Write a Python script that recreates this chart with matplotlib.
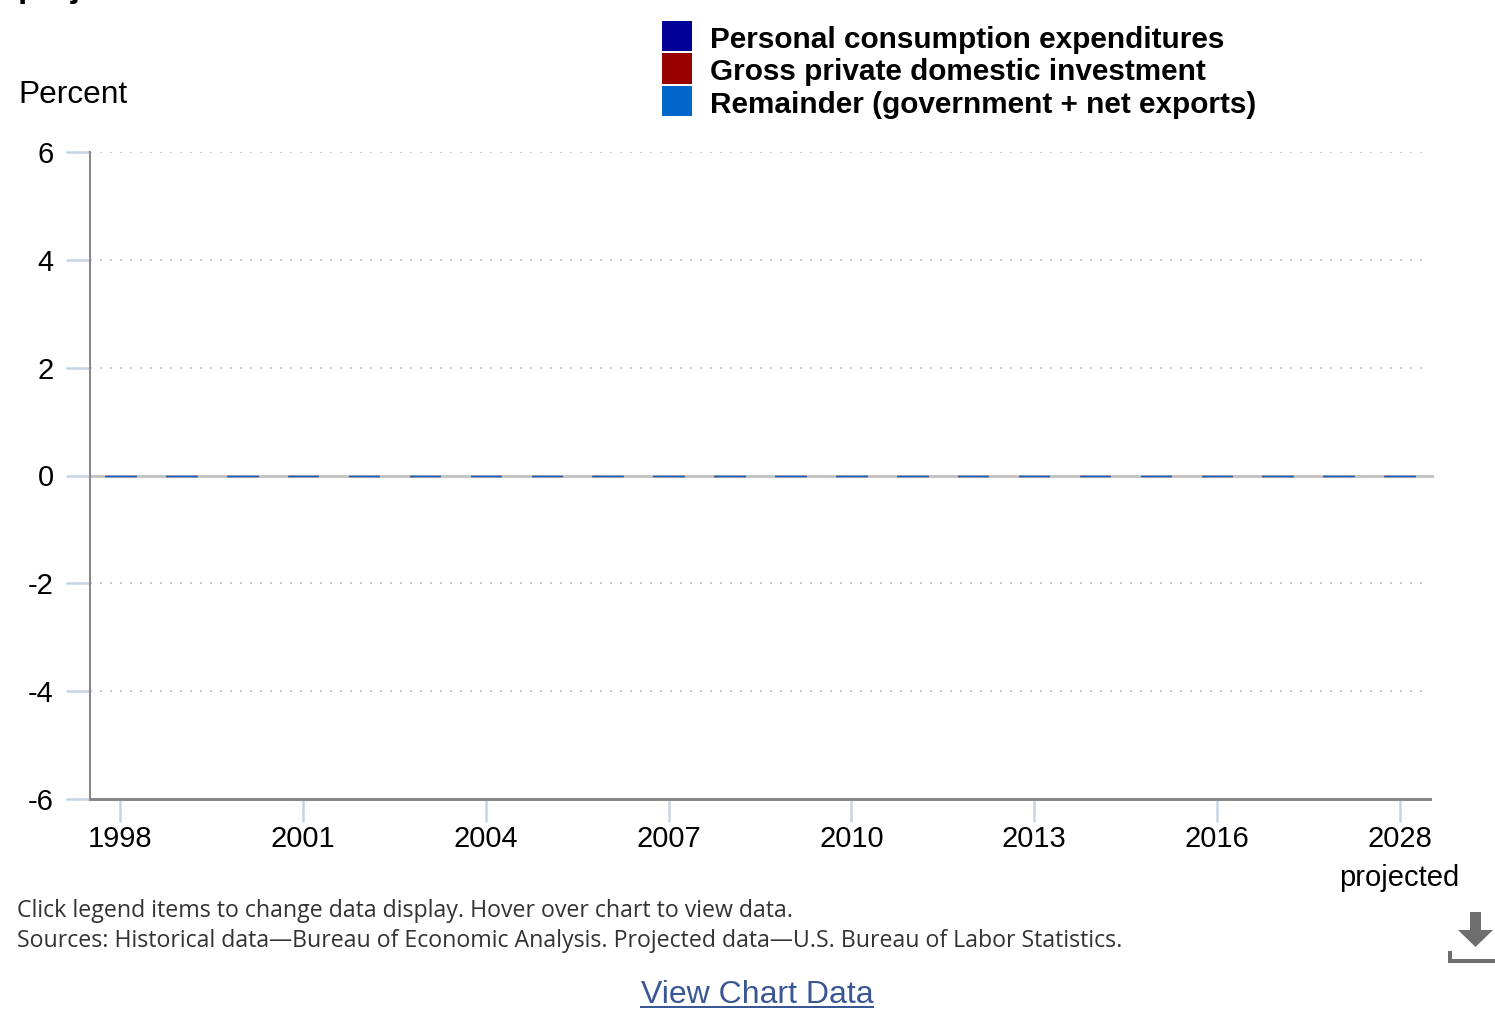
import numpy as np
import matplotlib
matplotlib.use('Agg')
import matplotlib.pyplot as plt
from matplotlib.patches import Polygon, Rectangle

# categories and series (percentage points)
years = ['1998', '1999', '2000', '2001', '2002', '2003', '2004', '2005', '2006', '2007', '2008',
         '2009', '2010', '2011', '2012', '2013', '2014', '2015', '2016', '2017', '2018', '2028']
pce = [0.0] * len(years)
gpdi = [0.0] * len(years)
remainder = [0.0] * len(years)

series_names = ['Personal consumption expenditures', 'Gross private domestic investment',
                'Remainder (government + net exports)']
series_colors = ['#000099', '#990000', '#0066cc']
tick_years = ['1998', '2001', '2004', '2007', '2010', '2013', '2016', '2028']
y_ticks = [-6, -4, -2, 0, 2, 4, 6]

W, H = 1495, 1011
DPI = 100
plt.rcParams['font.family'] = ['Liberation Sans', 'DejaVu Sans']


def fx(x):
    return x / W


def fy(y):
    return 1 - y / H


def px2pt(p):
    return p * 72.0 / DPI


fig = plt.figure(figsize=(W / DPI, H / DPI), dpi=DPI)
ax = fig.add_axes([fx(90), (H - 799) / H, 1340 / W, 647 / H])

x = np.arange(len(years))
bottom = np.zeros(len(years))
for vals, name, col in zip([pce, gpdi, remainder], series_names, series_colors):
    ax.bar(x, vals, width=0.5, bottom=bottom, color=col, edgecolor=col,
           linewidth=px2pt(1.2), zorder=4, label=name)
    bottom += np.array(vals)

ax.set_xlim(-0.5, len(years) - 0.5)
ax.set_ylim(-6, 6)

# dotted grid, solid zero line
for v in y_ticks:
    if v == 0:
        ax.axhline(0, color='#c4c4c4', lw=px2pt(3), zorder=3, xmax=1.0015, clip_on=False)
    elif v != -6:
        ax.plot([-0.5, len(years) - 0.6], [v, v], color='#c8c8c8', lw=px2pt(2),
                linestyle=(0, (1, 4)), zorder=1)

ax.set_yticks(y_ticks)
ax.set_yticklabels([str(v) for v in y_ticks], fontsize=21)
tick_pos = [years.index(t) for t in tick_years]
ax.set_xticks(tick_pos)
labels = [t for t in tick_years]
labels[-1] = '2028\nprojected'
ax.set_xticklabels(labels, fontsize=21, linespacing=1.5)
ax.tick_params(axis='y', length=px2pt(24), width=px2pt(2.5), color='#c6d5e6', pad=px2pt(12))
ax.tick_params(axis='x', length=px2pt(23), width=px2pt(2.5), color='#c6d5e6', pad=px2pt(3))
for lab in ax.get_yticklabels():
    lab.set_va('center_baseline')

for s in ['top', 'right']:
    ax.spines[s].set_visible(False)
ax.spines['left'].set_color('#888888')
ax.spines['left'].set_linewidth(px2pt(2))
ax.spines['bottom'].set_color('#888888')
ax.spines['bottom'].set_linewidth(px2pt(3))
ax.spines['left'].set_zorder(5)

fig.text(fx(18), fy(95), 'Percent', fontsize=22.8, va='center', ha='left')

# cut-off title line
fig.text(fx(18), fy(-3), 'projected', fontsize=24, fontweight='bold', va='baseline', ha='left')

# legend
for i, (name, col) in enumerate(zip(series_names, series_colors)):
    top = 21 + i * 32.5
    fig.add_artist(Rectangle((fx(662), fy(top + 30)), 30 / W, 30 / H, transform=fig.transFigure,
                             facecolor=col, edgecolor='none'))
    fig.text(fx(710), fy(top + 19), name, fontsize=21.4, fontweight='bold', va='center', ha='left')

# notes
note_font = ['Open Sans', 'DejaVu Sans']
fig.text(fx(17), fy(911), 'Click legend items to change data display. Hover over chart to view data.',
         fontsize=16.7, family=note_font, color='#333333', va='center', ha='left')
fig.text(fx(17), fy(941), 'Sources: Historical data\u2014Bureau of Economic Analysis. '
         'Projected data\u2014U.S. Bureau of Labor Statistics.',
         fontsize=16.7, family=note_font, color='#333333', va='center', ha='left')

# link
link_col = '#3a5795'
fig.text(fx(757), fy(995), 'View Chart Data', fontsize=23, color=link_col, va='center', ha='center')
fig.add_artist(Rectangle((fx(640), fy(1008)), 234 / W, 2.5 / H, transform=fig.transFigure,
                         facecolor=link_col, edgecolor='none'))

# download icon
icon_col = '#6e6e6e'
fig.add_artist(Polygon([(fx(1470), fy(912)), (fx(1481), fy(912)), (fx(1481), fy(930)),
                        (fx(1493), fy(930)), (fx(1475.5), fy(947)), (fx(1458), fy(930)),
                        (fx(1470), fy(930))], closed=True, transform=fig.transFigure,
                       facecolor=icon_col, edgecolor='none'))
fig.add_artist(Rectangle((fx(1448), fy(963)), 4 / W, 12 / H, transform=fig.transFigure,
                         facecolor=icon_col, edgecolor='none'))
fig.add_artist(Rectangle((fx(1448), fy(963)), 47 / W, 4 / H, transform=fig.transFigure,
                         facecolor=icon_col, edgecolor='none'))

fig.savefig('out.png', dpi=DPI)
